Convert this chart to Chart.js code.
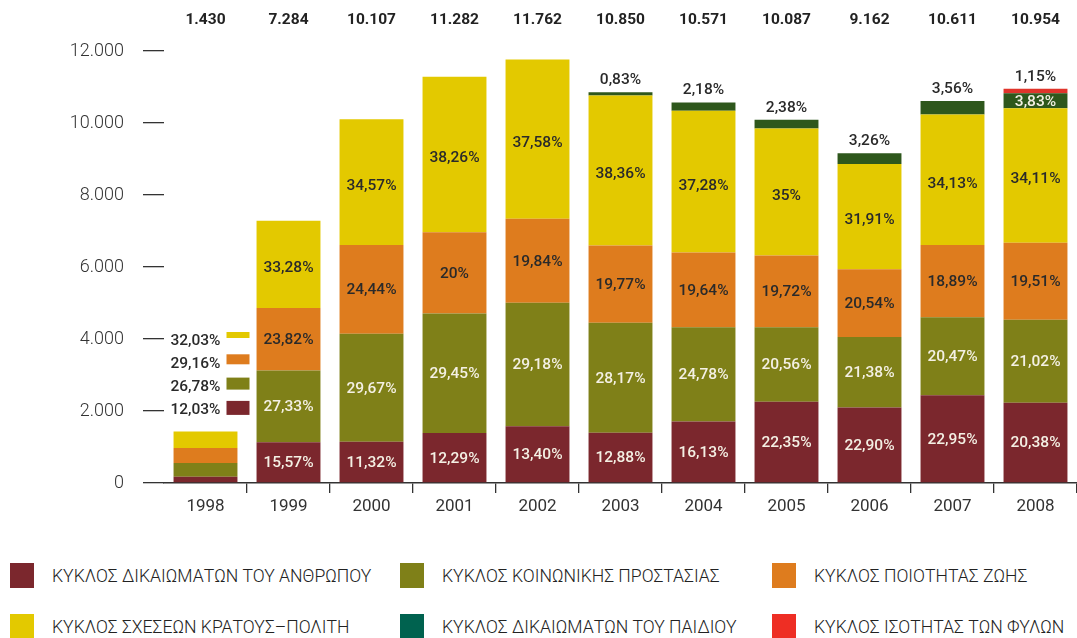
<!DOCTYPE html>
<html>
<head>
<meta charset="utf-8">
<script src="https://cdn.jsdelivr.net/npm/chart.js@4.4.1/dist/chart.umd.min.js"></script>
<style>
  html, body { margin: 0; padding: 0; background: #fff; }
  body { width: 1077px; height: 638px; position: relative; overflow: hidden; font-family: Roboto, sans-serif; }
  #wrap { position: absolute; left: 0; top: 0; width: 1077px; height: 530px; }
  .leg { position: absolute; display: flex; align-items: center; font-size: 17.6px; font-weight: 300; color: #222; white-space: nowrap; }
  .leg span.box { display: inline-block; width: 24px; height: 25px; margin-right: 18px; }
</style>
</head>
<body>
<div id="wrap"><canvas id="chart"></canvas></div>
<div id="legend"></div>
<script>
// data
const years = ['1998', '1999', '2000', '2001', '2002', '2003', '2004', '2005', '2006', '2007', '2008'];
const totals = [1430, 7284, 10107, 11282, 11762, 10850, 10571, 10087, 9162, 10611, 10954];
const totalLabels = ['1.430', '7.284', '10.107', '11.282', '11.762', '10.850', '10.571', '10.087', '9.162', '10.611', '10.954'];

// shares (%) per cycle, bottom to top
const pctHuman   = [12.03, 15.57, 11.32, 12.29, 13.40, 12.88, 16.13, 22.35, 22.90, 22.95, 20.38];
const pctSocial  = [26.78, 27.33, 29.67, 29.45, 29.18, 28.17, 24.78, 20.56, 21.38, 20.47, 21.02];
const pctQuality = [29.16, 23.82, 24.44, 20, 19.84, 19.77, 19.64, 19.72, 20.54, 18.89, 19.51];
const pctState   = [32.03, 33.28, 34.57, 38.26, 37.58, 38.36, 37.28, 35, 31.91, 34.13, 34.11];
const pctChild   = [0, 0, 0, 0, 0, 0.83, 2.18, 2.38, 3.26, 3.56, 3.83];
const pctGender  = [0, 0, 0, 0, 0, 0, 0, 0, 0, 0, 1.15];

const seriesNames = [
  'ΚΥΚΛΟΣ ΔΙΚΑΙΩΜΑΤΩΝ ΤΟΥ ΑΝΘΡΩΠΟΥ',
  'ΚΥΚΛΟΣ ΚΟΙΝΩΝΙΚΗΣ ΠΡΟΣΤΑΣΙΑΣ',
  'ΚΥΚΛΟΣ ΠΟΙΟΤΗΤΑΣ ΖΩΗΣ',
  'ΚΥΚΛΟΣ ΣΧΕΣΕΩΝ ΚΡΑΤΟΥΣ–ΠΟΛΙΤΗ',
  'ΚΥΚΛΟΣ ΔΙΚΑΙΩΜΑΤΩΝ ΤΟΥ ΠΑΙΔΙΟΥ',
  'ΚΥΚΛΟΣ ΙΣΟΤΗΤΑΣ ΤΩΝ ΦΥΛΩΝ'
];
const barColors = ['#7b272d', '#7f8018', '#de7c1e', '#e3c900', '#2e571c', '#e0342b'];
const legendColors = ['#7b272d', '#7f8018', '#de7c1e', '#e3c900', '#00624f', '#ee2e24'];
const labelColors = ['#f4f0e4', '#f4f0e4', '#2a2a2a', '#2a2a2a', '#f4f0e4', '#2a2a2a'];
const yTicks = [0, 2000, 4000, 6000, 8000, 10000, 12000];

const pctSeries = [pctHuman, pctSocial, pctQuality, pctState, pctChild, pctGender];

function fmtPct(v) {
  const s = Number.isInteger(v) ? String(v) : v.toFixed(2);
  return s.replace('.', ',') + '%';
}
function fmtThousands(v) {
  return v === 0 ? '0' : v.toLocaleString('de-DE');
}

const datasets = pctSeries.map((pcts, i) => ({
  label: seriesNames[i],
  data: pcts.map((p, j) => totals[j] * p / 100),
  pcts: pcts,
  backgroundColor: barColors[i],
  borderWidth: 0,
  barPercentage: 0.77,
  categoryPercentage: 1
}));

const labelPlugin = {
  id: 'segLabels',
  afterDatasetsDraw(chart) {
    const ctx = chart.ctx;
    ctx.save();
    ctx.textAlign = 'center';
    ctx.textBaseline = 'middle';
    const n = years.length;
    for (let j = 0; j < n; j++) {
      // topmost non-zero segment index
      let top = -1;
      chart.data.datasets.forEach((ds, i) => { if (ds.data[j] > 0) top = i; });
      chart.data.datasets.forEach((ds, i) => {
        const bar = chart.getDatasetMeta(i).data[j];
        const p = ds.pcts[j];
        if (!p || j === 0) return;
        const h = bar.base - bar.y;
        ctx.font = '500 15.5px Roboto';
        if (i === top && h < 25) {
          ctx.fillStyle = '#2a2a2a';
          ctx.fillText(fmtPct(p), bar.x, bar.y - 12);
        } else {
          ctx.fillStyle = labelColors[i];
          ctx.fillText(fmtPct(p), bar.x, (bar.y + bar.base) / 2 + (i === 3 ? 4 : 1));
        }
      });
      // totals on top row
      const b0 = chart.getDatasetMeta(0).data[j];
      ctx.font = 'bold 15.5px Roboto';
      ctx.fillStyle = '#222';
      ctx.fillText(totalLabels[j], b0.x, 20);
    }
    // side key for the small 1998 bar
    const first = chart.getDatasetMeta(0).data[0];
    const keyRows = [3, 2, 1, 0];
    const boxH = [6, 10, 12, 14];
    const rowY = [341, 364, 387, 410];
    ctx.font = '500 15.5px Roboto';
    ctx.textAlign = 'right';
    keyRows.forEach((s, k) => {
      ctx.fillStyle = '#2a2a2a';
      ctx.fillText(fmtPct(chart.data.datasets[s].pcts[0]), first.x + 15, rowY[k]);
      ctx.fillStyle = barColors[s];
      const cy = rowY[k] - 6 + k * 1.3;
      ctx.fillRect(first.x + 21, cy - boxH[k] / 2, 23, boxH[k]);
    });
    ctx.restore();
  }
};

new Chart(document.getElementById('chart'), {
  type: 'bar',
  data: { labels: years, datasets: datasets },
  options: {
    responsive: true,
    maintainAspectRatio: false,
    animation: false,
    layout: { padding: { top: 51, left: 0, right: 0, bottom: 0 } },
    plugins: { legend: { display: false }, tooltip: { enabled: false } },
    scales: {
      x: {
        stacked: true,
        afterFit: s => { s.height = 47; },
        border: { display: true, color: '#333', width: 1.5 },
        grid: {
          offset: true,
          drawOnChartArea: false,
          tickLength: 10,
          lineWidth: 1.3,
          color: c => (c.index === 0 || c.index >= years.length) ? 'rgba(0,0,0,0)' : '#333'
        },
        ticks: { color: '#333', font: { family: 'Roboto', size: 17 }, padding: 4 }
      },
      y: {
        stacked: true,
        min: 0,
        max: 12000,
        afterFit: s => { s.width = 164; },
        afterBuildTicks: s => { s.ticks = yTicks.map(v => ({ value: v })); },
        border: { display: false },
        grid: { drawOnChartArea: false, tickLength: 21, lineWidth: 1.3, color: '#333' },
        ticks: {
          color: '#333',
          padding: 19,
          font: { family: 'Roboto', size: 18, weight: 300 },
          callback: v => fmtThousands(v)
        }
      }
    }
  },
  plugins: [labelPlugin]
});

// legend, two rows of three
const legend = document.getElementById('legend');
const colX = [10, 400, 772];
const rowTop = [563, 614];
seriesNames.forEach((name, i) => {
  const d = document.createElement('div');
  d.className = 'leg';
  d.style.left = colX[i % 3] + 'px';
  d.style.top = rowTop[Math.floor(i / 3)] + 'px';
  d.innerHTML = '<span class="box" style="background:' + legendColors[i] + '"></span>' + name;
  legend.appendChild(d);
});
</script>
</body>
</html>
